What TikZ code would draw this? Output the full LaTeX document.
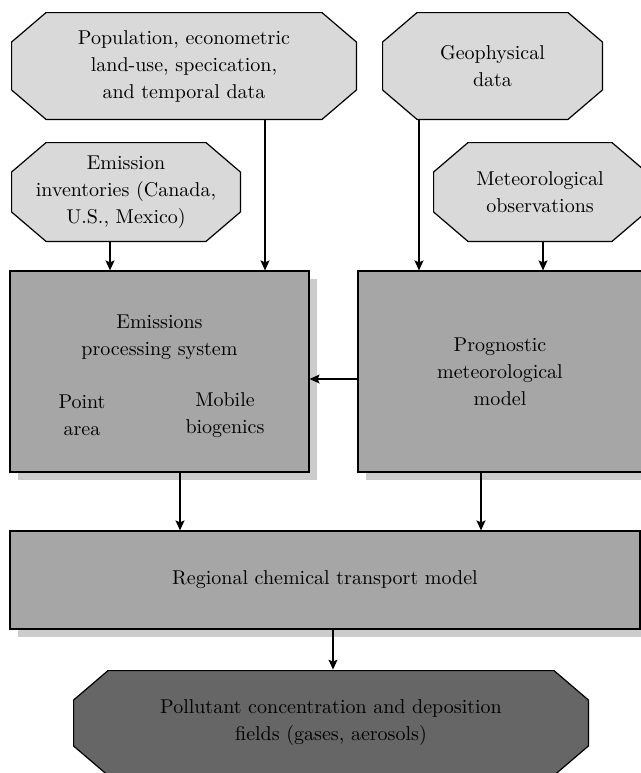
\documentclass[tikz,border=0pt]{standalone}
\usetikzlibrary{arrows.meta, positioning, shadows}
\definecolor{ltgray}{HTML}{D9D9D9}
\definecolor{midgray}{HTML}{A6A6A6}
\definecolor{dkgray}{HTML}{666666}
\definecolor{shadegray}{HTML}{CCCCCC}

\begin{document}
\begin{tikzpicture}[x=0.5pt, y=-0.5pt,
  >={Stealth[length=5pt, width=4.5pt, inset=1pt]},
  font=\fontsize{10}{13.5}\selectfont,
  octbox/.style={rectangle, align=center, inner sep=0pt,
    path picture={
      \filldraw[fill=#1, draw=black, line width=0.6pt]
        ([xshift=17.5pt, yshift=-0.3pt]path picture bounding box.north west)
        -- ([xshift=-17.5pt, yshift=-0.3pt]path picture bounding box.north east)
        -- ([xshift=-0.3pt, yshift=-15pt]path picture bounding box.north east)
        -- ([xshift=-0.3pt, yshift=15pt]path picture bounding box.south east)
        -- ([xshift=-17.5pt, yshift=0.3pt]path picture bounding box.south east)
        -- ([xshift=17.5pt, yshift=0.3pt]path picture bounding box.south west)
        -- ([xshift=0.3pt, yshift=15pt]path picture bounding box.south west)
        -- ([xshift=0.3pt, yshift=-15pt]path picture bounding box.north west)
        -- cycle;
    }},
  octbox/.default=ltgray,
  procbox/.style={rectangle, draw=black, line width=0.6pt, fill=midgray,
    align=center, inner sep=0pt,
    drop shadow={shadow xshift=3.75pt, shadow yshift=-3.75pt,
      fill=shadegray, opacity=1, draw=none}},
  flow/.style={->, line width=0.6pt}]

% Canvas (pixel coordinates, y downwards)
\useasboundingbox (0,0) rectangle (641,773);

% Input data
\node[octbox, minimum width=173pt, minimum height=54pt] (pop) at (184,66)
  {Population, econometric\\land-use, specication,\\and temporal data};
\node[octbox, minimum width=110.5pt, minimum height=54pt] (geo) at (492.5,66)
  {Geophysical\\data};
\node[octbox, minimum width=115pt, minimum height=50pt] (emi) at (126,192)
  {Emission\\inventories (Canada,\\U.S., Mexico)};
\node[octbox, minimum width=107pt, minimum height=50pt] (met) at (540,192)
  {Meteorological\\observations};

% Models
\node[procbox, minimum width=149.5pt, minimum height=100.5pt] (eps) at (159.5,371.5) {};
\node[align=center] (epst) at ([yshift=17pt]eps.center) {Emissions\\processing system};
\node[align=center] (point) at ([xshift=-38.75pt, yshift=-22pt]eps.center) {Point\\area};
\node[align=center] (mobile) at ([xshift=32.75pt, yshift=-22pt]eps.center) {Mobile\\biogenics};
\node[procbox, minimum width=142pt, minimum height=100.5pt] (pmm) at (500,371.5)
  {Prognostic\\meteorological\\model};
\node[procbox, minimum width=315pt, minimum height=49pt] (rct) at (325,580)
  {Regional chemical transport model};

% Output
\node[octbox=dkgray, minimum width=258pt, minimum height=53pt] (pol) at (331,723)
  {Pollutant concentration and deposition\\fields (gases, aerosols)};

% Connectors
\draw[flow] ([xshift=-8pt]emi.south) -- ([xshift=-8pt]emi.south |- eps.north);
\draw[flow] ([xshift=40.5pt]pop.south) -- ([xshift=40.5pt]pop.south |- eps.north);
\draw[flow] ([xshift=-36.75pt]geo.south) -- ([xshift=-36.75pt]geo.south |- pmm.north);
\draw[flow] ([xshift=1.5pt]met.south) -- ([xshift=1.5pt]met.south |- pmm.north);
\draw[flow] ([yshift=-3.75pt]pmm.west) -- ([yshift=-3.75pt]pmm.west -| eps.east);
\draw[flow] ([xshift=10.25pt]eps.south) -- ([xshift=10.25pt]eps.south |- rct.north);
\draw[flow] ([xshift=-9.5pt]pmm.south) -- ([xshift=-9.5pt]pmm.south |- rct.north);
\draw[flow] ([xshift=4pt]rct.south) -- ([xshift=4pt]rct.south |- pol.north);

\end{tikzpicture}
\end{document}
